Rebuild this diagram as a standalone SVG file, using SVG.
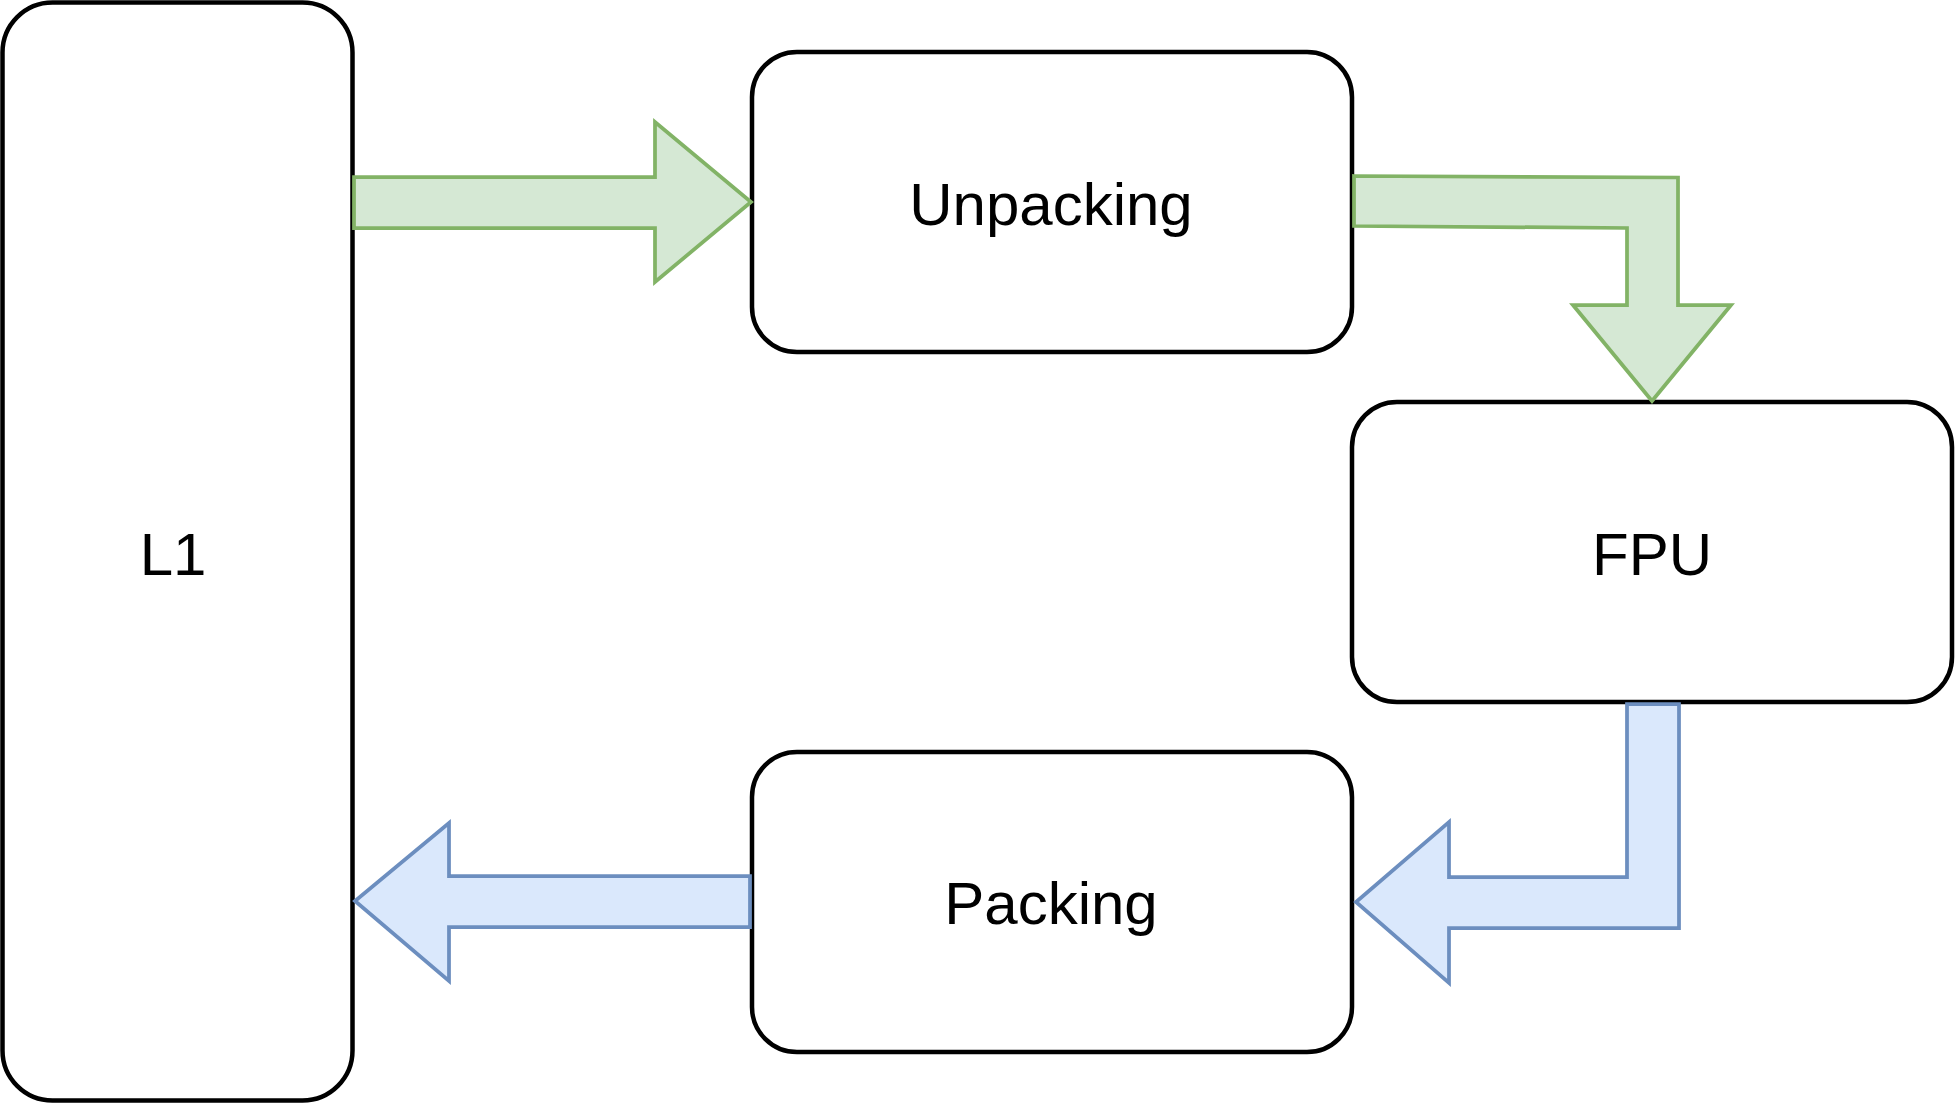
<svg xmlns="http://www.w3.org/2000/svg" width="1955" height="1110" viewBox="0 0 1955 1110">
  <style>
    .node { fill: #ffffff; stroke: #000000; stroke-width: 4.5; }
    .lbl { font-family: "Liberation Sans", Arial, sans-serif; font-size: 60px; fill: #000000; text-anchor: middle; }
    .green { fill: #d5e8d4; stroke: #82b366; stroke-width: 3.75; stroke-linejoin: miter; }
    .blue { fill: #dae8fc; stroke: #6c8ebf; stroke-width: 3.75; stroke-linejoin: miter; }
  </style>
  <rect x="0" y="0" width="1955" height="1110" fill="#ffffff"/>
  <g id="node-l1">
    <rect class="node" x="2.5" y="2.5" width="350" height="1098" rx="50" ry="50"/>
    <text class="lbl" x="173" y="575">L1</text>
  </g>
  <g id="node-unpacking">
    <rect class="node" x="752" y="52" width="600" height="300" rx="45" ry="45"/>
    <text class="lbl" x="1051" y="225">Unpacking</text>
  </g>
  <g id="node-fpu">
    <rect class="node" x="1352" y="402" width="600" height="300" rx="45" ry="45"/>
    <text class="lbl" x="1652" y="575">FPU</text>
  </g>
  <g id="node-packing">
    <rect class="node" x="752" y="752" width="600" height="300" rx="45" ry="45"/>
    <text class="lbl" x="1051" y="924">Packing</text>
  </g>
  <g id="connectors">
    <path class="green" d="M354,177 L655,177 L655,122 L751,202 L655,282 L655,228 L354,228 Z"/>
    <path class="green" d="M1354,176 L1678,177.5 L1678,305 L1731,305 L1652,401 L1573,305 L1627,305 L1627,228 L1354,226 Z"/>
    <path class="blue" d="M1627,704 L1679,704 L1679,928 L1449,928 L1449,983 L1356,902 L1449,822 L1449,877 L1627,877 Z"/>
    <path class="blue" d="M750,876 L449,876 L449,823 L355,901 L449,981 L449,927 L750,927 Z"/>
  </g>
</svg>
